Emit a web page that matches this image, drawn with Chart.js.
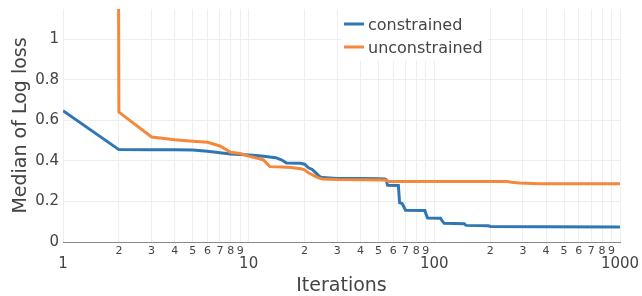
<!DOCTYPE html>
<html><head><meta charset="utf-8">
<script src="https://cdn.jsdelivr.net/npm/chart.js@4/dist/chart.umd.min.js"></script>
<style>html,body{margin:0;padding:0;background:#fff;}#wrap{width:642px;height:296px;}</style>
</head><body><div id="wrap"><canvas id="c" width="642" height="296"></canvas></div>
<script>
const seriesNames = ['constrained', 'unconstrained'];
const seriesColors = ['#2f77b4', '#f5883a'];

const constrainedIter = [1,2,3,4,5,6,7,8,9,10,11,12,13,14,15,16,19,20,21,22,23,24,25,30,40,50,54,55,56,64,65,67,68,69,70,89,90,92,108,110,113,145,148,195,201,380,1000];
const constrainedLoss = [0.648,0.456,0.455,0.455,0.454,0.448,0.441,0.434,0.432,0.430,0.427,0.423,0.419,0.416,0.406,0.390,0.389,0.384,0.366,0.358,0.341,0.324,0.318,0.314,0.313,0.312,0.311,0.308,0.280,0.279,0.194,0.190,0.180,0.168,0.157,0.155,0.140,0.118,0.117,0.105,0.092,0.090,0.082,0.080,0.077,0.075,0.074];

const unconstrainedIter = [1,2,3,4,5,6,7,8,9,10,11,12,13,15,17,19,20,21,22,23,24,25,30,54,57,100,247,260,287,366,1000];
const unconstrainedLoss = [100,0.641,0.518,0.505,0.497,0.492,0.474,0.443,0.437,0.424,0.415,0.405,0.372,0.370,0.368,0.362,0.356,0.342,0.332,0.322,0.315,0.311,0.308,0.306,0.299,0.299,0.298,0.295,0.291,0.287,0.287];

const xTickValues = [1,2,3,4,5,6,7,8,9,10,20,30,40,50,60,70,80,90,100,200,300,400,500,600,700,800,900,1000];
const xTickLabels = ['1','2','3','4','5','6','7','8','9','10','2','3','4','5','6','7','8','9','100','2','3','4','5','6','7','8','9','1000'];
const xMajorTicks = [1,10,100,1000];
const yTickValues = [0,0.2,0.4,0.6,0.8,1];
const yTickLabels = ['0','0.2','0.4','0.6','0.8','1'];
const xTitle = 'Iterations';
const yTitle = 'Median of Log loss';

const FONT = "'DejaVu Sans', Verdana, sans-serif";
Chart.defaults.font.family = FONT;
Chart.defaults.color = '#444';

const toPoints = (xs, ys) => xs.map((x, i) => ({x: x, y: ys[i]}));

const legendPlugin = {
  id: 'plotlyLegend',
  afterDraw(chart) {
    const ctx = chart.ctx;
    ctx.save();
    ctx.fillStyle = '#fff';
    ctx.fillRect(341, 9, 147, 52);
    const rows = [30, 53];
    chart.data.datasets.forEach((ds, i) => {
      const yb = rows[i];
      ctx.strokeStyle = ds.borderColor;
      ctx.lineWidth = 3;
      ctx.beginPath();
      ctx.moveTo(344, yb - 6);
      ctx.lineTo(364, yb - 6);
      ctx.stroke();
      ctx.fillStyle = '#444';
      ctx.font = '16px ' + FONT;
      ctx.textBaseline = 'alphabetic';
      ctx.textAlign = 'left';
      ctx.fillText(ds.label, 368, yb);
    });
    ctx.restore();
  }
};

new Chart(document.getElementById('c'), {
  type: 'line',
  data: {
    datasets: [
      {label: seriesNames[0], data: toPoints(constrainedIter, constrainedLoss), borderColor: seriesColors[0], borderWidth: 3, pointRadius: 0, tension: 0, fill: false, order: 1},
      {label: seriesNames[1], data: toPoints(unconstrainedIter, unconstrainedLoss), borderColor: seriesColors[1], borderWidth: 3, pointRadius: 0, tension: 0, fill: false, order: 0}
    ]
  },
  options: {
    responsive: false,
    animation: false,
    devicePixelRatio: 1,
    layout: {padding: {top: 9, right: 22, left: 0, bottom: 0}},
    plugins: {legend: {display: false}, tooltip: {enabled: false}},
    scales: {
      x: {
        type: 'logarithmic',
        position: 'bottom',
        min: 1, max: 1000,
        afterBuildTicks: (s) => { s.ticks = xTickValues.map(v => ({value: v})); },
        afterFit: (s) => { s.height = 54; s.paddingLeft = 0; s.paddingRight = 0; },
        grid: {color: '#eee', drawTicks: false},
        border: {display: true, color: '#888', width: 1},
        ticks: {
          autoSkip: false, maxRotation: 0, minRotation: 0, padding: 3, color: '#444',
          font: (ctx) => (ctx.tick && xMajorTicks.includes(ctx.tick.value)) ? {size: 15, lineHeight: 2.5, family: FONT} : {size: 11, lineHeight: 1.2, family: FONT},
          callback: (v) => { const i = xTickValues.indexOf(v); return i >= 0 ? xTickLabels[i] : ''; }
        },
        title: {display: true, text: xTitle, color: '#444', font: {size: 19, lineHeight: 1, family: FONT}, padding: {top: 0, bottom: 0}}
      },
      y: {
        type: 'linear',
        min: 0, max: 1.15,
        afterBuildTicks: (s) => { s.ticks = yTickValues.map(v => ({value: v})); },
        afterFit: (s) => { s.width = 63; s.paddingTop = 0; s.paddingBottom = 0; },
        grid: {color: '#eee', drawTicks: false},
        border: {display: false},
        ticks: {
          padding: 4, color: '#444', font: {size: 15, family: FONT},
          callback: (v) => { const i = yTickValues.indexOf(v); return i >= 0 ? yTickLabels[i] : ''; }
        },
        title: {display: true, text: yTitle, color: '#444', font: {size: 19, lineHeight: 1, family: FONT}, padding: {top: 11.5, bottom: 0}}
      }
    }
  },
  plugins: [legendPlugin]
});
</script>
</body></html>
